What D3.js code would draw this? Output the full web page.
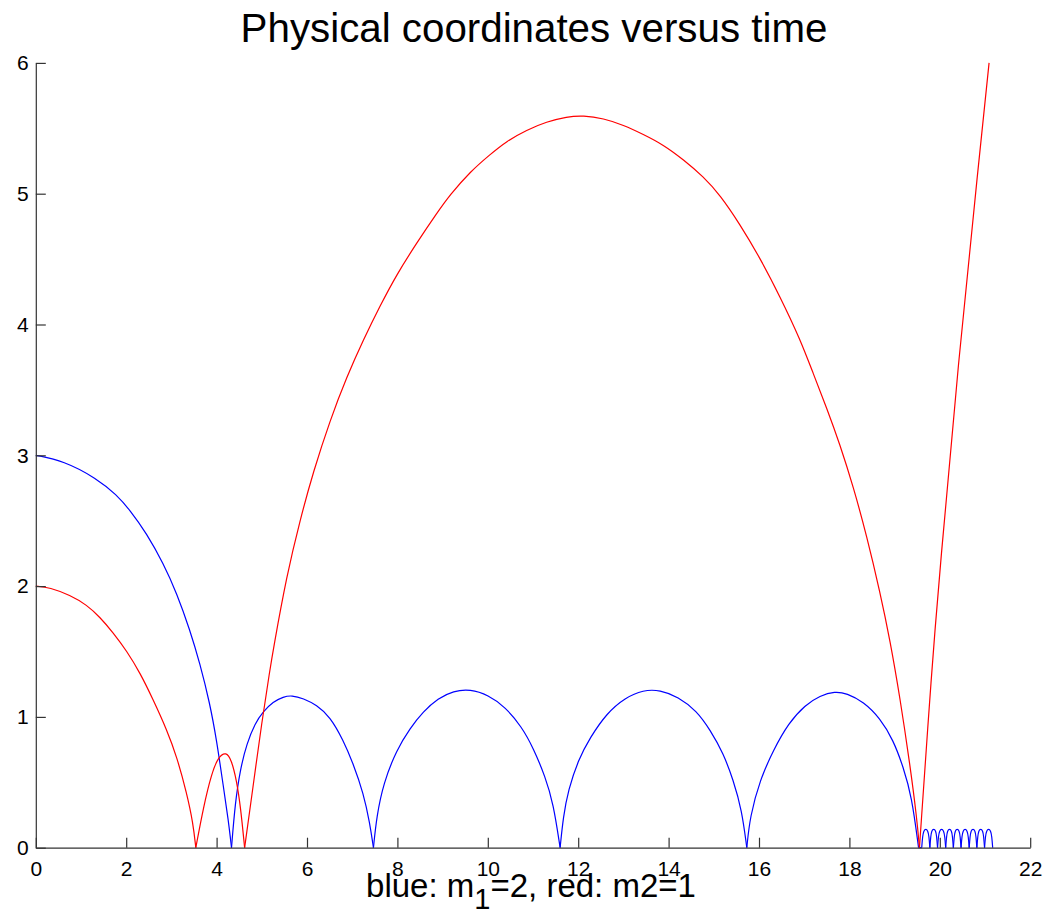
<!DOCTYPE html>
<html>
<head>
<meta charset="utf-8">
<script src="https://cdn.jsdelivr.net/npm/d3@7"></script>
<style>
  body { margin: 0; background: #fff; }
  svg { display: block; font-family: "Liberation Sans", Arial, Helvetica, sans-serif; }
  .axis path, .axis line { stroke: #333; stroke-width: 1.2; }
  .axis text { fill: #000; font-size: 21px; }
</style>
</head>
<body>
<svg id="chart" width="1047" height="922"></svg>
<script>
// Chart texts and ticks
const titleText = 'Physical coordinates versus time';
const xTicks = [0, 2, 4, 6, 8, 10, 12, 14, 16, 18, 20, 22];
const yTicks = [0, 1, 2, 3, 4, 5, 6];

// Red body: [time, position]
const redCurve = [
  [0, 2.0], [0.31, 1.99], [0.76, 1.93], [1.13, 1.856], [1.42, 1.762], [1.71, 1.645],
  [2.01, 1.505], [2.31, 1.335], [2.60, 1.129], [2.90, 0.90], [3.12, 0.696], [3.34, 0.416],
  [3.48, 0.187], [3.54, 0],
  [3.71, 0.313], [3.89, 0.569], [4.04, 0.696], [4.21, 0.734], [4.33, 0.67], [4.44, 0.518],
  [4.53, 0.313], [4.62, 0],
  [4.80, 0.45], [5.0, 0.96], [5.18, 1.36], [5.25, 1.51], [5.55, 2.08], [5.85, 2.51],
  [6.14, 2.875], [6.51, 3.268], [6.88, 3.6], [7.25, 3.885], [7.62, 4.145], [7.98, 4.38],
  [8.43, 4.625], [8.87, 4.85], [9.16, 4.99], [9.61, 5.168], [10.05, 5.30], [10.42, 5.403],
  [10.86, 5.487], [11.30, 5.55], [11.75, 5.589], [12.11, 5.598], [12.56, 5.576], [13.0, 5.525],
  [13.44, 5.454], [13.88, 5.375], [14.33, 5.26], [14.77, 5.13], [15.14, 4.99], [15.58, 4.765],
  [16.02, 4.51], [16.46, 4.217], [16.91, 3.888], [17.2, 3.625], [17.5, 3.36], [17.79, 3.083],
  [18.09, 2.755], [18.38, 2.388], [18.68, 1.95], [18.9, 1.584], [19.12, 1.145], [19.34, 0.634],
  [19.49, 0.231], [19.55, 0],
  [19.82, 1.359], [20.0, 2.115], [20.4, 3.68], [20.87, 5.27], [21.09, 6.0]
];

// Blue body: [time, position]
const blueCurve = [
  [0, 3.0], [0.609, 2.959], [1.347, 2.824], [1.79, 2.697], [2.08, 2.582], [2.45, 2.404],
  [2.82, 2.174], [3.12, 1.945], [3.41, 1.664], [3.63, 1.41], [3.85, 1.104], [4.0, 0.823],
  [4.15, 0.466], [4.26, 0.212], [4.33, 0],
  [4.41, 0.339], [4.52, 0.594], [4.67, 0.798], [4.85, 0.951], [5.03, 1.04], [5.25, 1.116],
  [5.48, 1.154], [5.66, 1.165], [5.92, 1.142], [6.21, 1.091], [6.51, 1.002], [6.8, 0.823],
  [7.02, 0.645], [7.25, 0.416], [7.39, 0.187], [7.47, 0],
  [7.54, 0.237], [7.69, 0.492], [7.98, 0.747], [8.28, 0.913], [8.57, 1.04], [8.9, 1.142],
  [9.24, 1.198], [9.61, 1.212], [10.01, 1.167], [10.38, 1.078], [10.75, 0.925], [11.01, 0.76],
  [11.27, 0.543], [11.45, 0.339], [11.6, 0],
  [11.67, 0.237], [11.78, 0.441], [12.0, 0.67], [12.26, 0.84], [12.63, 1.028], [13.04, 1.147],
  [13.44, 1.206], [13.81, 1.206], [14.21, 1.154], [14.62, 1.047], [14.92, 0.9], [15.21, 0.722],
  [15.43, 0.518], [15.62, 0.288], [15.73, 0],
  [15.8, 0.237], [16.02, 0.518], [16.32, 0.747], [16.65, 0.951], [17.02, 1.091], [17.35, 1.162],
  [17.68, 1.195], [17.94, 1.18], [18.31, 1.116], [18.68, 0.989], [18.97, 0.823], [19.19, 0.619],
  [19.38, 0.39], [19.53, 0],
  // small fast bounces at the end
  [19.60, 0], [19.62, 0.09], [19.645, 0.13], [19.69, 0.145], [19.735, 0.13], [19.76, 0.09], [19.78, 0],
  [19.80, 0.09], [19.82, 0.13], [19.865, 0.145], [19.91, 0.13], [19.93, 0.09], [19.95, 0],
  [19.97, 0.09], [19.995, 0.13], [20.04, 0.145], [20.085, 0.13], [20.11, 0.09], [20.13, 0],
  [20.15, 0.09], [20.17, 0.13], [20.215, 0.145], [20.26, 0.13], [20.28, 0.09], [20.30, 0],
  [20.32, 0.09], [20.34, 0.13], [20.385, 0.145], [20.43, 0.13], [20.45, 0.09], [20.47, 0],
  [20.49, 0.09], [20.515, 0.13], [20.56, 0.145], [20.605, 0.13], [20.63, 0.09], [20.65, 0],
  [20.67, 0.09], [20.69, 0.13], [20.735, 0.145], [20.78, 0.13], [20.80, 0.09], [20.82, 0],
  [20.84, 0.09], [20.86, 0.13], [20.905, 0.145], [20.95, 0.13], [20.97, 0.09], [20.99, 0],
  [21.01, 0.09], [21.035, 0.13], [21.08, 0.145], [21.125, 0.13], [21.15, 0.09], [21.17, 0]
];

const svg = d3.select('#chart');

const x = d3.scaleLinear().domain([0, 22]).range([35.8, 1030.2]);
const y = d3.scaleLinear().domain([0, 6]).range([847.7, 62.9]);

// split a curve into arcs at every bounce so the cusps stay sharp
function splitArcs(points) {
  const arcs = [];
  let cur = [points[0]];
  for (let i = 1; i < points.length; i++) {
    cur.push(points[i]);
    if (points[i][1] === 0 && i < points.length - 1) {
      arcs.push(cur);
      cur = [points[i]];
    }
  }
  if (cur.length > 1) arcs.push(cur);
  return arcs;
}

const line = d3.line()
  .x(d => x(d[0]))
  .y(d => y(d[1]))
  .curve(d3.curveBasis);

// Draw curves
[[blueCurve, '#0000ff'], [redCurve, '#ff0000']].forEach(([pts, color]) => {
  svg.append('g')
    .selectAll('path')
    .data(splitArcs(pts))
    .join('path')
    .attr('d', line)
    .attr('fill', 'none')
    .attr('stroke', color)
    .attr('stroke-width', 1.2);
});

// Axes, ticks pointing inward like matlab
svg.append('g')
  .attr('class', 'axis')
  .attr('transform', `translate(0,${y(0)})`)
  .call(d3.axisBottom(x).tickValues(xTicks).tickSizeInner(-10).tickSizeOuter(0).tickPadding(13).tickFormat(d3.format('d')));

svg.append('g')
  .attr('class', 'axis')
  .attr('transform', `translate(${x(0)},0)`)
  .call(d3.axisLeft(y).tickValues(yTicks).tickSizeInner(-10).tickSizeOuter(0).tickPadding(7).tickFormat(d3.format('d')));

svg.selectAll('.axis .domain').attr('fill', 'none');

// Title
svg.append('text')
  .attr('x', 534)
  .attr('y', 42)
  .attr('text-anchor', 'middle')
  .attr('font-size', 40.3)
  .text(titleText);

// X label with subscript
const xl = svg.append('text')
  .attr('x', 531)
  .attr('y', 897)
  .attr('text-anchor', 'middle')
  .attr('font-size', 33);
xl.append('tspan').text('blue: m');
xl.append('tspan').attr('dy', 12).attr('font-size', 29).text('1');
xl.append('tspan').attr('dy', -12).text('=2, red: m2=1');
</script>
</body>
</html>
